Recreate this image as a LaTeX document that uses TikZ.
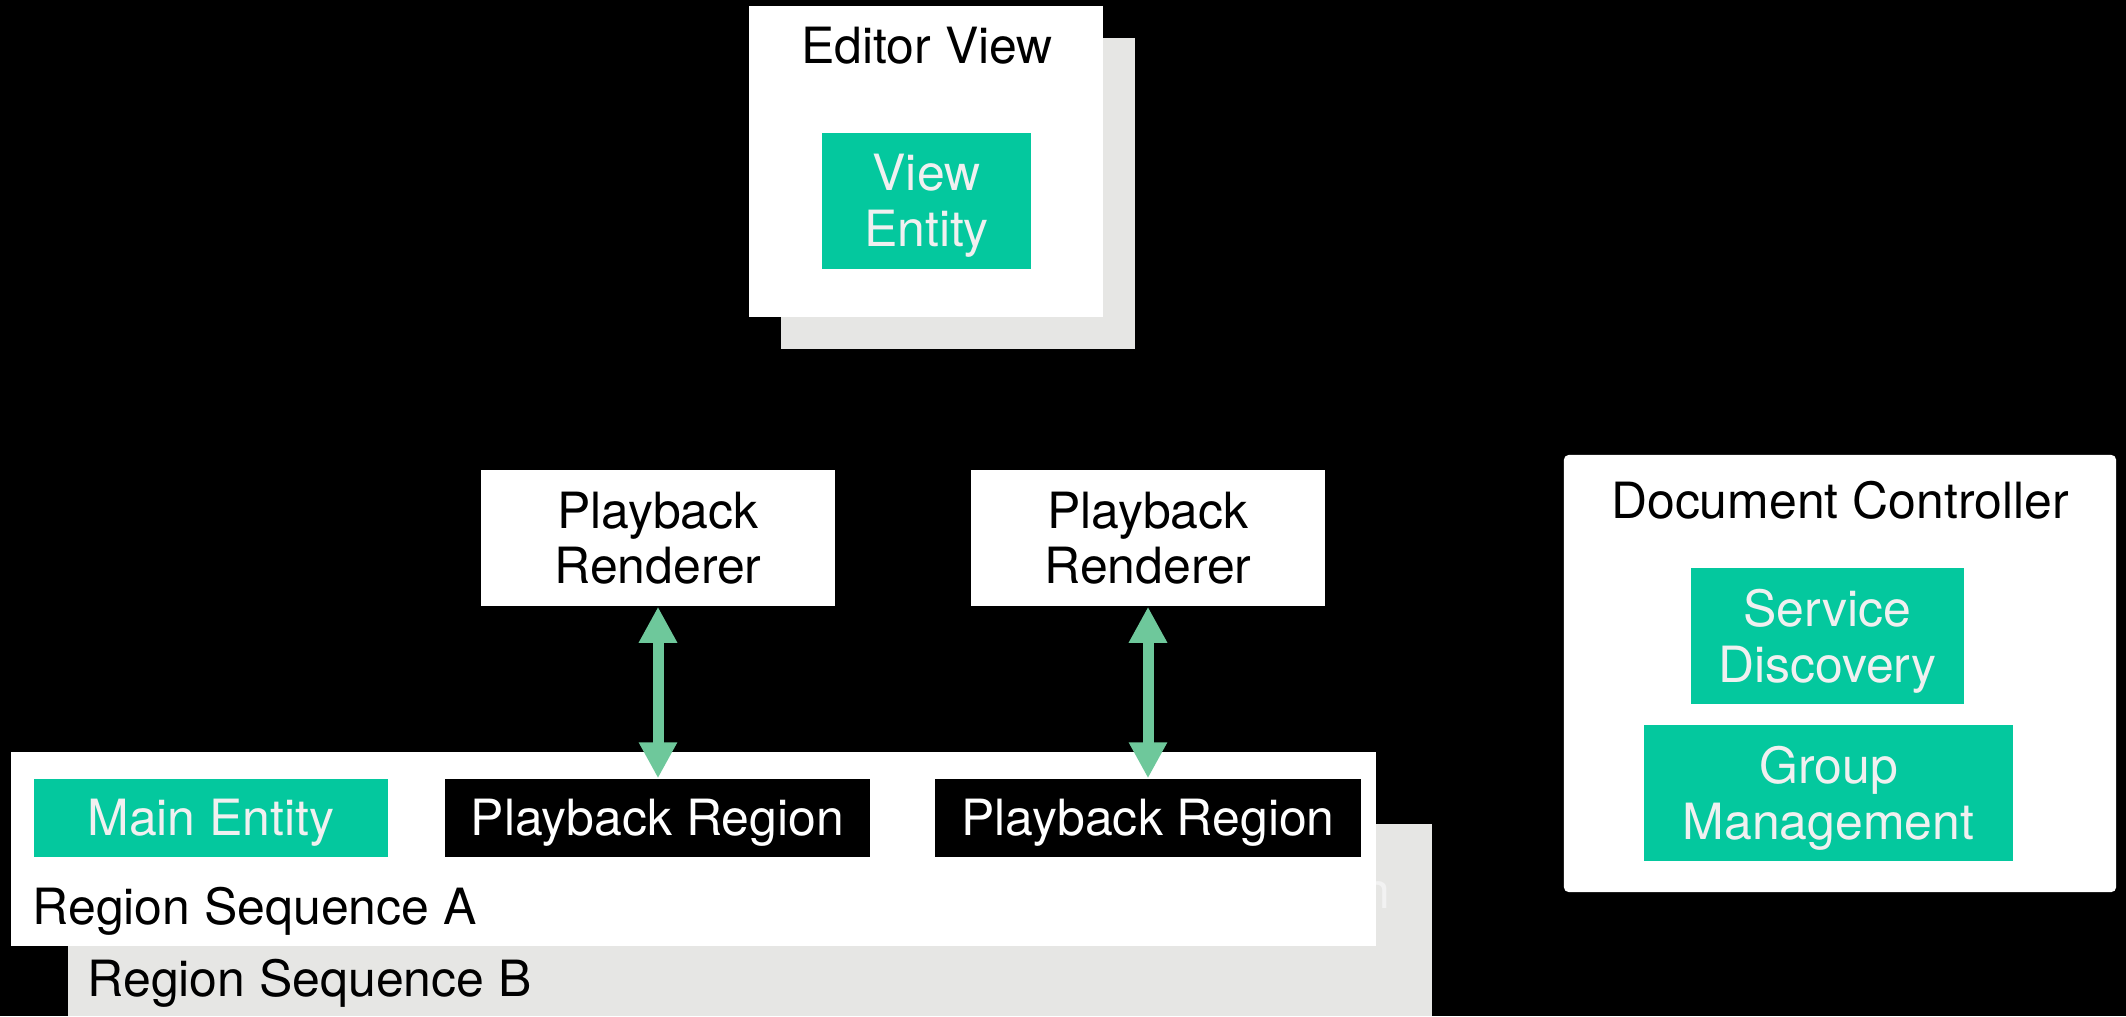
\documentclass[tikz,border=0pt]{standalone}
\usepackage{fontspec}
\setmainfont{TeX Gyre Heros}
\usetikzlibrary{arrows.meta}
\definecolor{mint}{RGB}{4,200,158}
\definecolor{arrowgreen}{RGB}{110,200,155}
\definecolor{shadowgray}{RGB}{230,230,228}

\begin{document}
\begin{tikzpicture}[x=0.01cm,y=-0.01cm,
	every node/.style={inner sep=0pt,font=\fontsize{14.2}{15.8}\selectfont},
	panel/.style={fill=white},
	backpanel/.style={fill=shadowgray},
	entity/.style={fill=mint,label={[inner sep=0pt,align=center,text=white!94!black,yshift=-0.05cm]center:#1}},
	region/.style={fill=black,label={[inner sep=0pt,text=white,yshift=-0.05cm]center:#1}},
	link/.style={arrowgreen,line width=0.11cm,{Triangle[width=0.36cm,length=0.36cm]}-{Triangle[width=0.36cm,length=0.36cm]}}]

	\fill[black] (0,0) rectangle (2126,1016);

	\node[backpanel,minimum width=3.54cm,minimum height=3.11cm] (editorback) at (958,193.5) {};
	\node[panel,minimum width=3.54cm,minimum height=3.11cm] (editor) at (926,161.5) {};
	\node[anchor=base] (editortitle) at (927,63) {Editor View};
	\node[entity={View\\Entity},minimum width=2.09cm,minimum height=1.36cm] (viewentity) at (926.5,201) {};

	\node[panel,align=center,minimum width=3.54cm,minimum height=1.36cm] (render1) at (658,538) {Playback\\Renderer};
	\node[panel,align=center,minimum width=3.54cm,minimum height=1.36cm] (render2) at (1148,538) {Playback\\Renderer};

	\node[backpanel,minimum width=13.64cm,minimum height=1.92cm] (seqb) at (750,920) {};
	\node[anchor=base east,text=white!95!black] (seqbplay) at (1391,908) {Playback Region};
	\node[anchor=base west] (seqbtitle) at (87,996) {Region Sequence B};

	\node[panel,minimum width=13.65cm,minimum height=1.94cm] (seqa) at (693.5,849) {};
	\node[anchor=base west] (seqatitle) at (32,924) {Region Sequence A};
	\node[entity={Main Entity},minimum width=3.54cm,minimum height=0.78cm] (mainentity) at (211,818) {};
	\node[region={Playback Region},minimum width=4.25cm,minimum height=0.78cm] (play1) at (657.5,818) {};
	\node[region={Playback Region},minimum width=4.26cm,minimum height=0.78cm] (play2) at (1148,818) {};

	\draw[link] (render1.south) -- (render1.south |- play1.north);
	\draw[link] (render2.south) -- (render2.south |- play2.north);

	\node[panel,rounded corners=0.05cm,minimum width=5.52cm,minimum height=4.37cm] (controller) at (1840,673.5) {};
	\node[anchor=base] (controllertitle) at (1840,518) {Document Controller};
	\node[entity={Service\\Discovery},minimum width=2.73cm,minimum height=1.36cm] (discovery) at (1827.5,636) {};
	\node[entity={Group\\Management},minimum width=3.69cm,minimum height=1.36cm] (groups) at (1828.5,793) {};
\end{tikzpicture}
\end{document}
